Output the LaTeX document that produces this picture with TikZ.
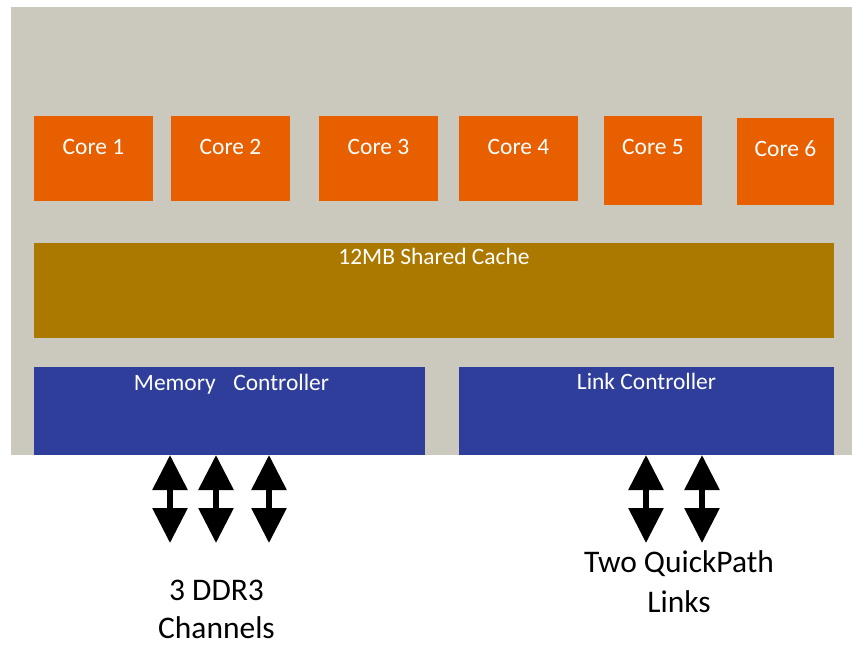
\documentclass[tikz,border=0pt]{standalone}
\usepackage{fontspec}
\setmainfont{Carlito}
\usetikzlibrary{arrows.meta}
\definecolor{chipgray}{HTML}{CBC9BD}
\definecolor{coreorange}{HTML}{E85F00}
\definecolor{cachegold}{HTML}{AC7900}
\definecolor{ctrlblue}{HTML}{2F3E9B}
\tikzset{
  blk/.style={rectangle, draw=none, inner sep=0pt, outer sep=0pt},
  corebox/.style={blk, fill=coreorange},
  cachebox/.style={blk, fill=cachegold},
  ctrlbox/.style={blk, fill=ctrlblue},
  boxlbl/.style={inner sep=0pt, text=white, font=\fontsize{17.6}{21}\selectfont, anchor=base},
  biglbl/.style={inner sep=0pt, text=black, align=center, font=\fontsize{23.6}{29}\selectfont, anchor=base},
  dblarrow/.style={line width=4.5pt, black,
    {Triangle[length=26.25pt,width=25.5pt]}-{Triangle[length=26.25pt,width=25.5pt]}}
}
\begin{document}
\begin{tikzpicture}[x=0.75pt, y=-0.75pt]
\useasboundingbox[fill=white] (0,0) rectangle (852,644);
\fill[chipgray] (11,7) rectangle (852,455);
% cores
\node[corebox, minimum width=119*0.75pt, minimum height=85*0.75pt] (c1) at (93.5,158.5) {};
\node[corebox, minimum width=119*0.75pt, minimum height=85*0.75pt] (c2) at (230.5,158.5) {};
\node[corebox, minimum width=119*0.75pt, minimum height=85*0.75pt] (c3) at (378.5,158.5) {};
\node[corebox, minimum width=119*0.75pt, minimum height=85*0.75pt] (c4) at (518.5,158.5) {};
\node[corebox, minimum width=98*0.75pt, minimum height=89*0.75pt] (c5) at (653,160.5) {};
\node[corebox, minimum width=97*0.75pt, minimum height=87*0.75pt] (c6) at (785.5,161.5) {};
\node[boxlbl] (t1) at (93.5,154) {Core 1};
\node[boxlbl] (t2) at (230.5,154) {Core 2};
\node[boxlbl] (t3) at (378.5,154) {Core 3};
\node[boxlbl] (t4) at (518.5,154) {Core 4};
\node[boxlbl] (t5) at (653,154) {Core 5};
\node[boxlbl] (t6) at (785.5,156) {Core 6};
% cache
\node[cachebox, minimum width=800*0.75pt, minimum height=95*0.75pt] (cache) at (434,290.5) {};
\node[boxlbl] (tcache) at (434,264) {12MB Shared Cache};
% controllers
\node[ctrlbox, minimum width=391*0.75pt, minimum height=88*0.75pt] (mc) at (229.5,411) {};
\node[ctrlbox, minimum width=375*0.75pt, minimum height=88*0.75pt] (lc) at (646.5,411) {};
\node[boxlbl] (tmc) at (231.5,390.5) {Memory\hspace{0.75em}Controller};
\node[boxlbl] (tlc) at (646.5,389.5) {Link Controller};
% arrow ends
\coordinate (m1) at (170,543);
\coordinate (m2) at (216,543);
\coordinate (m3) at (269,543);
\coordinate (l1) at (646,543);
\coordinate (l2) at (702,543);
\draw[dblarrow] (mc.south -| m1) -- (m1);
\draw[dblarrow] (mc.south -| m2) -- (m2);
\draw[dblarrow] (mc.south -| m3) -- (m3);
\draw[dblarrow] (lc.south -| l1) -- (l1);
\draw[dblarrow] (lc.south -| l2) -- (l2);
% labels (base anchor = baseline of the last line)
\node[biglbl, font=\fontsize{23.6}{28.5}\selectfont] (ddr) at (216.5,638) {3 DDR3\\Channels};
\node[biglbl, font=\fontsize{23.6}{30}\selectfont] (qpi) at (679,612) {Two QuickPath\\Links};
\end{tikzpicture}
\end{document}
